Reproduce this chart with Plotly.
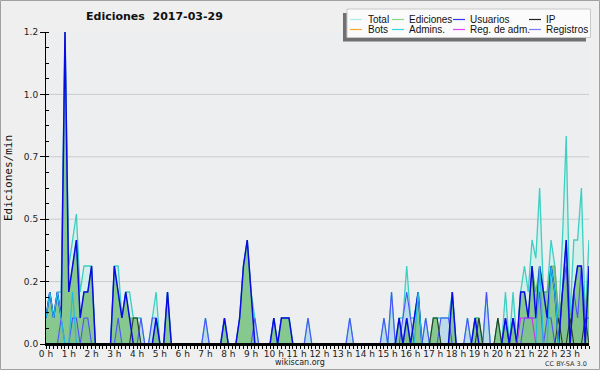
import plotly.graph_objects as go

# ---------------- data (edits/min, 10-minute bins, 0:00 .. 23:50) ----------------
hour_labels = [f"{h} h" for h in range(24)]
y_tick_vals = [0, 0.24, 0.48, 0.72, 0.96, 1.2]
y_tick_text = ["0.0", "0.2", "0.5", "0.7", "1.0", "1.2"]

total = [
    .1, .2, .1, .2, .2, 1.2, .3, .4, .5, .2, .3, .3,
    .3, 0, 0, 0, 0, 0, .3, .3, .1, .2, .2, .1,
    .1, .1, 0, 0, .1, .2, 0, 0, .2, 0, 0, 0,
    0, 0, 0, 0, 0, 0, .1, 0, 0, 0, 0, .1,
    0, 0, 0, .1, .3, .4, .2, .1, 0, 0, 0, 0,
    .1, 0, .1, .1, .1, 0, 0, 0, 0, .1, 0, 0,
    0, 0, 0, 0, 0, 0, 0, 0, .1, 0, 0, 0,
    0, 0, 0, 0, 0, .1, 0, .2, 0, .1, .1, .3,
    .1, .1, .2, 0, .1, 0, .1, .1, .1, .1, .1, .2,
    0, 0, 0, .1, 0, .1, .1, 0, .2, 0, 0, .1,
    0, .2, 0, .2, 0, .2, .3, .2, .4, .33, .6, .2,
    .2, .4, .3, .1, .4, .8, .1, .4, .4, .6, .1, .4,
]
ediciones = [
    .1, .2, .1, .2, .1, 1.2, .2, .3, .4, .1, .2, .2,
    .3, 0, 0, 0, 0, 0, .3, .2, .1, .2, .1, .1,
    .1, 0, 0, 0, 0, .1, 0, 0, .2, 0, 0, 0,
    0, 0, 0, 0, 0, 0, 0, 0, 0, 0, 0, .1,
    0, 0, 0, .1, .3, .4, .2, 0, 0, 0, 0, 0,
    .1, 0, .1, .1, .1, 0, 0, 0, 0, 0, 0, 0,
    0, 0, 0, 0, 0, 0, 0, 0, 0, 0, 0, 0,
    0, 0, 0, 0, 0, 0, 0, 0, 0, .1, 0, .1,
    0, .1, .2, 0, 0, 0, .1, .1, 0, 0, 0, .2,
    0, 0, 0, 0, 0, .1, .1, 0, 0, 0, 0, .1,
    0, .1, 0, .1, 0, .2, .2, .1, .3, .2, .3, .2,
    .2, .3, .3, .1, .2, .4, .1, .2, .3, .3, .1, .3,
]
usuarios = [
    .1, .2, .1, .2, .1, 1.2, .2, .3, .4, .1, .2, .2,
    .3, 0, 0, 0, 0, 0, .3, .2, .1, .2, .1, 0,
    0, 0, 0, 0, 0, .1, 0, 0, .2, 0, 0, 0,
    0, 0, 0, 0, 0, 0, 0, 0, 0, 0, 0, .1,
    0, 0, 0, .1, .3, .4, .2, 0, 0, 0, 0, 0,
    .1, 0, .1, .1, .1, 0, 0, 0, 0, 0, 0, 0,
    0, 0, 0, 0, 0, 0, 0, 0, 0, 0, 0, 0,
    0, 0, 0, 0, 0, 0, 0, 0, 0, .1, 0, .1,
    0, .1, .2, 0, 0, 0, 0, 0, 0, 0, 0, .2,
    0, 0, 0, 0, 0, .1, 0, 0, 0, 0, 0, 0,
    0, .1, 0, .1, 0, .2, .2, .1, .3, .1, .3, .2,
    .1, .3, .2, 0, .2, .4, 0, .2, .3, .3, 0, .3,
]
ip = [
    0, 0, 0, 0, 0, 0, 0, 0, 0, 0, 0, 0,
    0, 0, 0, 0, 0, 0, 0, 0, 0, 0, 0, .1,
    .1, 0, 0, 0, 0, 0, 0, 0, 0, 0, 0, 0,
    0, 0, 0, 0, 0, 0, 0, 0, 0, 0, 0, 0,
    0, 0, 0, 0, 0, 0, 0, 0, 0, 0, 0, 0,
    0, 0, 0, 0, 0, 0, 0, 0, 0, 0, 0, 0,
    0, 0, 0, 0, 0, 0, 0, 0, 0, 0, 0, 0,
    0, 0, 0, 0, 0, 0, 0, 0, 0, 0, 0, 0,
    0, 0, 0, 0, 0, 0, .1, .1, 0, 0, 0, 0,
    0, 0, 0, 0, 0, 0, .1, 0, 0, 0, 0, .1,
    0, 0, 0, 0, 0, 0, 0, 0, 0, 0, 0, 0,
    0, 0, 0, .1, 0, 0, .1, 0, 0, 0, .1, 0,
]
bots = [0] * 144
admins = [
    .1, .2, .1, .2, .1, 0, 0, .2, 0, 0, 0, 0,
    0, 0, 0, 0, 0, 0, 0, 0, 0, 0, 0, 0,
    0, 0, 0, 0, 0, 0, 0, 0, 0, 0, 0, 0,
    0, 0, 0, 0, 0, 0, 0, 0, 0, 0, 0, 0,
    0, 0, 0, 0, 0, 0, 0, 0, 0, 0, 0, 0,
    0, 0, 0, 0, 0, 0, 0, 0, 0, 0, 0, 0,
    0, 0, 0, 0, 0, 0, 0, 0, 0, 0, 0, 0,
    0, 0, 0, 0, 0, 0, 0, 0, 0, 0, 0, 0,
    0, 0, .2, 0, 0, 0, 0, 0, 0, 0, 0, 0,
    0, 0, 0, 0, 0, 0, 0, 0, 0, 0, 0, 0,
    0, 0, 0, 0, 0, 0, 0, 0, 0, 0, .3, 0,
    0, .3, .2, 0, 0, 0, 0, 0, 0, 0, 0, 0,
]
reg_adm = [0] * 125 + [.1, .1, .1, .1] + [0] * 15
registros = [
    0, 0, 0, 0, .1, 0, 0, .1, .1, 0, .1, .1,
    0, 0, 0, 0, 0, 0, 0, .1, 0, 0, 0, 0,
    0, .1, 0, 0, .1, .1, 0, 0, 0, 0, 0, 0,
    0, 0, 0, 0, 0, 0, .1, 0, 0, 0, 0, 0,
    0, 0, 0, 0, 0, 0, 0, .1, 0, 0, 0, 0,
    0, 0, 0, 0, 0, 0, 0, 0, 0, .1, 0, 0,
    0, 0, 0, 0, 0, 0, 0, 0, .1, 0, 0, 0,
    0, 0, 0, 0, 0, .1, 0, .2, 0, 0, .1, .2,
    .1, 0, 0, 0, .1, 0, 0, 0, .1, .1, .1, 0,
    0, 0, 0, .1, 0, 0, 0, 0, .2, 0, 0, 0,
    0, .1, 0, .1, 0, 0, .1, .1, .1, .1, .2, 0,
    .1, .1, 0, 0, .2, .3, 0, .2, .1, .3, .1, .1,
]
bins = list(range(len(total)))

legend_names = ["Total", "Ediciones", "Usuarios", "IP",
                "Bots", "Admins.", "Reg. de adm.", "Registros"]
legend_colors = ["#a8ecec", "#88d888", "#3333ff", "#222222",
                 "#ffa828", "#33d8ea", "#e040ff", "#7a7aff"]

# ---------------- geometry helpers (pixel -> paper) ----------------
W, H = 600, 370
ML, MR, MT, MB = 46, 11, 32, 26
PW, PH = W - ML - MR, H - MT - MB


def px(x):
    return (x - ML) / PW


def py(y):
    return (H - MB - y) / PH


fig = go.Figure()

# filled areas
fig.add_trace(go.Scatter(x=bins, y=total, mode="lines", fill="tozeroy",
                         fillcolor="rgba(190,240,230,0.5)", line=dict(width=0),
                         hoverinfo="skip"))
fig.add_trace(go.Scatter(x=bins, y=registros, mode="lines", fill="tozeroy",
                         fillcolor="rgba(170,205,232,0.6)", line=dict(width=0),
                         hoverinfo="skip"))
fig.add_trace(go.Scatter(x=bins, y=ediciones, mode="lines", fill="tozeroy",
                         fillcolor="rgba(105,185,105,0.72)", line=dict(width=0),
                         hoverinfo="skip"))

# lines
line_series = [
    (total, "#3ccfc2", 1.3),
    (ediciones, "#5cb85c", 1.0),
    (registros, "#5050ff", 1.1),
    (ip, "#2a3a2a", 1.1),
    (bots, "#ffa828", 1.0),
    (usuarios, "#0a0ae6", 1.5),
    (admins, "#22bce0", 1.2),
    (reg_adm, "#cc33ee", 1.1),
]
for ys, col, w in line_series:
    fig.add_trace(go.Scatter(x=bins, y=ys, mode="lines",
                             line=dict(color=col, width=w)))

font_family = "DejaVu Sans"

fig.update_layout(
    width=W, height=H,
    margin=dict(l=ML, r=MR, t=MT, b=MB),
    paper_bgcolor="#efefef",
    plot_bgcolor="#eceef0",
    showlegend=False,
    font=dict(family=font_family, size=9, color="#222"),
)
fig.update_xaxes(
    range=[0, 143],
    tickmode="array", tickvals=list(range(0, 144, 6)), ticktext=hour_labels,
    tickangle=0, ticklabelstandoff=-3,
    ticks="outside", ticklen=3, tickcolor="black", tickwidth=1,
    showline=True, linecolor="black", linewidth=1.5,
    showgrid=False, zeroline=False,
    tickfont=dict(size=9, color="#222"),
    minor=dict(tickmode="linear", tick0=0, dtick=1, ticks="outside",
               ticklen=3, tickcolor="black", showgrid=False),
)
fig.update_yaxes(
    range=[0, 1.2],
    tickmode="array", tickvals=y_tick_vals, ticktext=y_tick_text,
    ticks="outside", ticklen=5, tickcolor="black",
    showline=True, linecolor="black", linewidth=1,
    showgrid=False, zeroline=False,
    tickfont=dict(size=9, color="#222"),
    minor=dict(tickmode="linear", tick0=0, dtick=0.06, ticks="inside",
               ticklen=3, tickcolor="black", showgrid=False),
)

shapes = []
annotations = []

# horizontal grid lines (inner ticks only)
for v in y_tick_vals[1:-1]:
    shapes.append(dict(type="line", xref="paper", yref="y", x0=0, x1=1,
                       y0=v, y1=v, line=dict(color="#cbcbcb", width=1),
                       layer="below"))
# baseline drawn over the traces
shapes.append(dict(type="line", xref="paper", yref="y", x0=0, x1=1,
                   y0=0, y1=0, line=dict(color="black", width=2),
                   layer="above"))

# outer frame
shapes.append(dict(type="rect", xref="paper", yref="paper",
                   x0=px(0.5), x1=px(599.5), y0=py(369.5), y1=py(0.5),
                   line=dict(color="#a0a0a0", width=1), layer="above"))

# legend box with shadow
shapes.append(dict(type="rect", xref="paper", yref="paper",
                   x0=px(343), x1=px(586), y0=py(41.5), y1=py(13),
                   fillcolor="#707070", line=dict(width=0), layer="above"))
shapes.append(dict(type="rect", xref="paper", yref="paper",
                   x0=px(347), x1=px(590.5), y0=py(37.5), y1=py(9),
                   fillcolor="#fbfbfb", line=dict(color="#c8c8c8", width=1),
                   layer="above"))
col_line_x = [350, 392, 453, 529]
col_text_x = [366, 407, 468, 544]
row_y = [19.5, 29.5]
for k, (name, col) in enumerate(zip(legend_names, legend_colors)):
    r, c = divmod(k, 4)
    shapes.append(dict(type="line", xref="paper", yref="paper",
                       x0=px(col_line_x[c]), x1=px(col_line_x[c] + 12),
                       y0=py(row_y[r]), y1=py(row_y[r]),
                       line=dict(color=col, width=1.2), layer="above"))
    annotations.append(dict(xref="paper", yref="paper", x=px(col_text_x[c]),
                            y=py(row_y[r]), text=name, showarrow=False,
                            xanchor="left", yanchor="middle",
                            font=dict(family="Liberation Sans", size=10, color="#111")))

# title
annotations.append(dict(xref="paper", yref="paper", x=px(154), y=py(17),
                        text="<b>Ediciones\u00a0\u00a02017-03-29</b>",
                        showarrow=False, xanchor="center", yanchor="middle",
                        font=dict(family=font_family, size=11, color="#111")))
# y axis title
annotations.append(dict(xref="paper", yref="paper", x=px(8), y=py(178),
                        text="Ediciones/min", textangle=-90, showarrow=False,
                        xanchor="center", yanchor="middle",
                        font=dict(family="DejaVu Sans Mono", size=11, color="#111")))
# footer
annotations.append(dict(xref="paper", yref="paper", x=px(300), y=py(362),
                        text="wikiscan.org", showarrow=False,
                        xanchor="center", yanchor="middle",
                        font=dict(family=font_family, size=8, color="#222")))
annotations.append(dict(xref="paper", yref="paper", x=px(589), y=py(363.5),
                        text="CC BY-SA 3.0", showarrow=False,
                        xanchor="right", yanchor="middle",
                        font=dict(family=font_family, size=6.5, color="#333")))

fig.update_layout(shapes=shapes, annotations=annotations)
fig.write_html("out.html")
